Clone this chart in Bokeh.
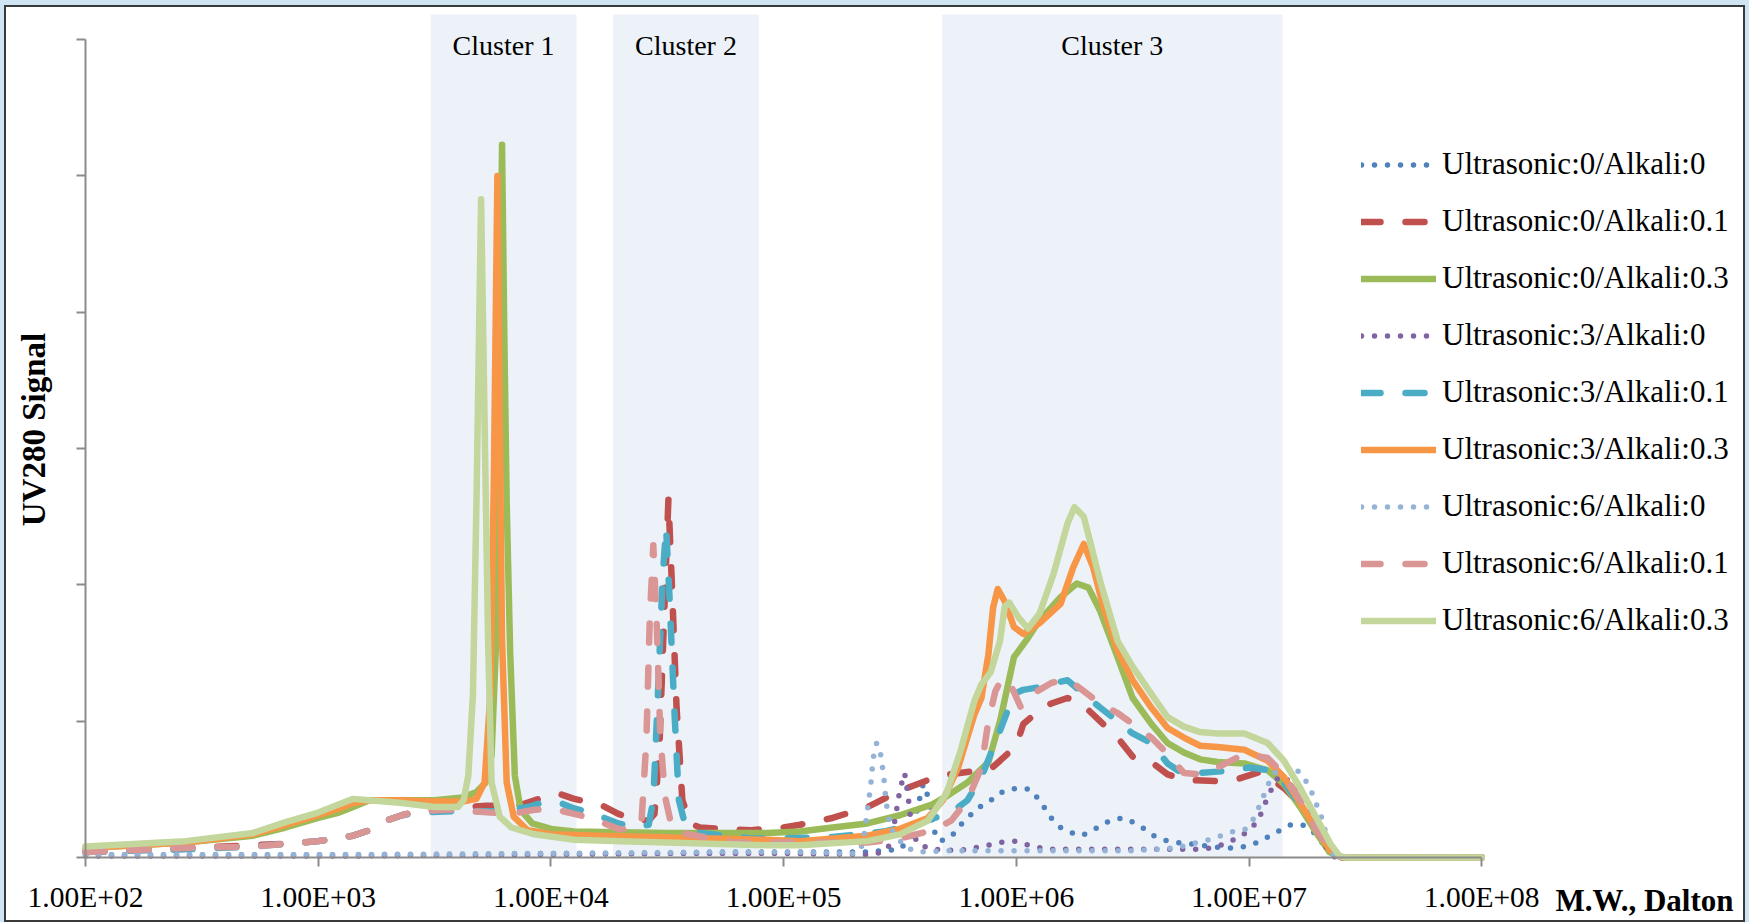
import numpy as np
from bokeh.plotting import figure
from bokeh.models import BoxAnnotation, Label, Legend, LegendItem, FixedTicker
from bokeh.embed import file_html
from bokeh.resources import INLINE

# ---------------- data ----------------
series_names = [
    "Ultrasonic:0/Alkali:0", "Ultrasonic:0/Alkali:0.1", "Ultrasonic:0/Alkali:0.3",
    "Ultrasonic:3/Alkali:0", "Ultrasonic:3/Alkali:0.1", "Ultrasonic:3/Alkali:0.3",
    "Ultrasonic:6/Alkali:0", "Ultrasonic:6/Alkali:0.1", "Ultrasonic:6/Alkali:0.3",
]
x_tick_values = [1e2, 1e3, 1e4, 1e5, 1e6, 1e7, 1e8]
x_tick_labels = ["1.00E+02", "1.00E+03", "1.00E+04", "1.00E+05", "1.00E+06", "1.00E+07", "1.00E+08"]
y_tick_values = [0, 1, 2, 3, 4, 5, 6]
x_title = "M.W., Dalton"
y_title = "UV280 Signal"

cluster_names = ["Cluster 1", "Cluster 2", "Cluster 3"]
cluster_log_lo = [3.483, 4.267, 5.681]
cluster_log_hi = [4.110, 4.894, 7.144]

# log10(M.W.) positions and UV280 signal
u0_a0_log = [2.00, 2.50, 3.00, 3.50, 4.00, 4.50, 4.70, 5.00, 5.36, 5.50, 5.55, 5.58, 5.60, 5.62, 5.645, 5.67, 5.72,
             5.75, 5.79, 5.84, 5.88, 5.91, 5.95, 6.005, 6.06, 6.10, 6.15, 6.19, 6.24, 6.28, 6.33, 6.375, 6.42, 6.46,
             6.50, 6.55, 6.59, 6.65, 6.69, 6.75, 6.83, 6.90, 6.955, 7.005, 7.05, 7.09, 7.135, 7.18, 7.23, 7.27, 7.31,
             7.34, 7.37, 8.00]
u0_a0_sig = [0.02, 0.02, 0.02, 0.02, 0.03, 0.03, 0.04, 0.04, 0.04, 0.06, 0.15, 0.40, 0.54, 0.45, 0.20, 0.12, 0.15,
             0.22, 0.29, 0.37, 0.40, 0.45, 0.49, 0.51, 0.50, 0.42, 0.29, 0.22, 0.18, 0.16, 0.20, 0.25, 0.28, 0.29,
             0.26, 0.21, 0.16, 0.12, 0.11, 0.10, 0.08, 0.07, 0.07, 0.09, 0.12, 0.16, 0.20, 0.24, 0.24, 0.20, 0.12,
             0.05, 0.00, 0.00]

u0_a01_log = [2.00, 2.43, 2.72, 2.86, 3.00, 3.15, 3.22, 3.29, 3.36, 3.43, 3.58, 3.72, 3.86, 3.93, 4.03, 4.10, 4.21,
              4.29, 4.355, 4.42, 4.445, 4.465, 4.485, 4.505, 4.52, 4.54, 4.565, 4.60, 4.64, 4.72, 4.86, 5.00, 5.07,
              5.21, 5.36, 5.50, 5.67, 5.89, 5.93, 6.00, 6.03, 6.10, 6.15, 6.22, 6.28, 6.36, 6.435, 6.50, 6.58, 6.65,
              6.72, 6.865, 6.96, 7.05, 7.15, 7.22, 7.29, 7.35, 7.40, 8.00]
u0_a01_sig = [0.04, 0.07, 0.09, 0.10, 0.12, 0.16, 0.20, 0.27, 0.31, 0.34, 0.36, 0.38, 0.38, 0.42, 0.47, 0.43, 0.39,
              0.32, 0.28, 0.27, 0.32, 0.75, 1.70, 2.63, 2.00, 1.10, 0.42, 0.25, 0.22, 0.21, 0.20, 0.22, 0.24,
              0.29, 0.37, 0.49, 0.60, 0.65, 0.71, 0.82, 0.98, 1.08, 1.13, 1.17, 1.13, 1.00, 0.88, 0.74, 0.70, 0.61,
              0.57, 0.56, 0.58, 0.63, 0.51, 0.39, 0.20, 0.05, 0.00, 0.00]

u0_a03_log = [2.00, 2.43, 2.72, 2.86, 3.00, 3.09, 3.15, 3.22, 3.36, 3.50, 3.62, 3.68, 3.72, 3.745, 3.765, 3.78, 3.79,
              3.80, 3.81, 3.825, 3.845, 3.87, 3.92, 4.00, 4.10, 4.50, 4.93, 5.07, 5.21, 5.36, 5.50, 5.64, 5.70, 5.79,
              5.88, 5.93, 5.99, 6.05, 6.10, 6.19, 6.26, 6.31, 6.36, 6.435, 6.50, 6.58, 6.65, 6.72, 6.79, 6.865, 6.98,
              7.08, 7.15, 7.22, 7.29, 7.345, 7.40, 8.00]
u0_a03_sig = [0.07, 0.11, 0.16, 0.22, 0.29, 0.33, 0.37, 0.42, 0.42, 0.42, 0.44, 0.48, 0.55, 0.75, 1.60, 3.50, 5.23,
              3.80, 2.60, 1.50, 0.60, 0.35, 0.25, 0.21, 0.19, 0.18, 0.18, 0.19, 0.22, 0.25, 0.31, 0.39, 0.45, 0.55,
              0.70, 1.00, 1.47, 1.61, 1.74, 1.91, 2.01, 1.98, 1.81, 1.47, 1.17, 0.98, 0.84, 0.77, 0.72, 0.70, 0.69,
              0.64, 0.54, 0.37, 0.18, 0.04, 0.00, 0.00]

u3_a0_log = [2.00, 3.00, 4.00, 4.50, 5.00, 5.36, 5.43, 5.46, 5.48, 5.50, 5.52, 5.535, 5.55, 5.575, 5.64, 5.75, 5.85,
             5.93, 6.00, 6.07, 6.15, 6.50, 6.80, 6.865, 6.92, 6.96, 7.00, 7.04, 7.06, 7.08, 7.105, 7.13, 7.16, 7.20,
             7.25, 7.30, 7.34, 7.37, 8.00]
u3_a0_sig = [0.01, 0.01, 0.02, 0.03, 0.03, 0.02, 0.04, 0.10, 0.29, 0.50, 0.62, 0.45, 0.22, 0.10, 0.06, 0.05, 0.08,
             0.11, 0.12, 0.08, 0.06, 0.06, 0.06, 0.08, 0.12, 0.15, 0.20, 0.27, 0.36, 0.44, 0.53, 0.60, 0.58, 0.50,
             0.35, 0.18, 0.05, 0.00, 0.00]

u3_a01_log = [2.00, 2.43, 2.72, 2.86, 3.00, 3.15, 3.22, 3.29, 3.36, 3.43, 3.58, 3.78, 3.90, 3.98, 4.04, 4.10, 4.17,
              4.29, 4.355, 4.42, 4.44, 4.46, 4.48, 4.495, 4.51, 4.53, 4.55, 4.58, 4.64, 4.86, 5.00, 5.21, 5.43, 5.575,
              5.72, 5.79, 5.85, 5.93, 5.99, 6.03, 6.10, 6.16, 6.22, 6.29, 6.36, 6.45, 6.50, 6.58, 6.65, 6.72, 6.865,
              7.005, 7.08, 7.15, 7.22, 7.29, 7.35, 7.40, 8.00]
u3_a01_sig = [0.04, 0.06, 0.08, 0.10, 0.12, 0.16, 0.20, 0.27, 0.31, 0.33, 0.34, 0.34, 0.37, 0.41, 0.40, 0.36, 0.33,
              0.25, 0.22, 0.24, 0.42, 1.20, 2.05, 2.42, 1.90, 1.10, 0.42, 0.22, 0.18, 0.14, 0.14, 0.15, 0.19, 0.25,
              0.33, 0.42, 0.59, 0.93, 1.20, 1.23, 1.25, 1.28, 1.30, 1.20, 1.10, 0.98, 0.91, 0.84, 0.69, 0.61, 0.63,
              0.66, 0.64, 0.55, 0.39, 0.20, 0.05, 0.00, 0.00]

u3_a03_log = [2.00, 2.43, 2.72, 2.86, 3.00, 3.09, 3.15, 3.22, 3.36, 3.50, 3.62, 3.68, 3.715, 3.74, 3.755, 3.77, 3.78,
              3.79, 3.81, 3.84, 3.90, 4.00, 4.20, 4.93, 5.07, 5.36, 5.50, 5.62, 5.685, 5.75, 5.82, 5.85, 5.88, 5.90,
              5.92, 5.95, 5.99, 6.03, 6.10, 6.19, 6.245, 6.29, 6.33, 6.375, 6.435, 6.50, 6.58, 6.65, 6.72, 6.79, 6.865,
              6.98, 7.08, 7.15, 7.22, 7.29, 7.35, 7.40, 8.00]
u3_a03_sig = [0.07, 0.11, 0.17, 0.24, 0.31, 0.36, 0.40, 0.42, 0.42, 0.41, 0.41, 0.43, 0.55, 1.20, 2.80, 5.00, 3.20,
              1.60, 0.55, 0.30, 0.20, 0.17, 0.16, 0.13, 0.12, 0.16, 0.21, 0.29, 0.42, 0.66, 1.05, 1.17, 1.49, 1.83,
              1.97, 1.88, 1.69, 1.64, 1.72, 1.86, 2.13, 2.30, 2.13, 1.83, 1.52, 1.30, 1.10, 0.95, 0.88, 0.82, 0.81,
              0.79, 0.71, 0.59, 0.40, 0.20, 0.05, 0.00, 0.00]

u6_a0_log = [2.00, 3.00, 4.00, 4.70, 5.00, 5.30, 5.33, 5.345, 5.36, 5.375, 5.385, 5.40, 5.415, 5.43, 5.44, 5.46, 5.52,
             5.575, 5.70, 6.00, 6.50, 6.69, 6.75, 6.83, 6.88, 6.93, 6.98, 7.015, 7.04, 7.06, 7.08, 7.11, 7.16, 7.19,
             7.23, 7.255, 7.28, 7.30, 7.32, 7.33, 7.35, 7.37, 8.00]
u6_a0_sig = [0.02, 0.02, 0.03, 0.04, 0.04, 0.03, 0.05, 0.15, 0.34, 0.54, 0.73, 0.84, 0.78, 0.60, 0.41, 0.21, 0.08,
             0.04, 0.05, 0.05, 0.05, 0.07, 0.10, 0.13, 0.16, 0.19, 0.20, 0.27, 0.36, 0.44, 0.53, 0.62, 0.66, 0.67,
             0.60, 0.53, 0.44, 0.34, 0.26, 0.17, 0.07, 0.00, 0.00]

u6_a01_log = [2.00, 2.43, 2.72, 2.86, 3.00, 3.15, 3.22, 3.29, 3.36, 3.43, 3.58, 3.65, 3.83, 3.93, 4.00, 4.10, 4.17,
              4.29, 4.355, 4.39, 4.41, 4.425, 4.44, 4.455, 4.47, 4.49, 4.52, 4.56, 4.785, 5.00, 5.36, 5.50, 5.64, 5.72,
              5.79, 5.85, 5.88, 5.91, 5.94, 5.98, 6.02, 6.07, 6.15, 6.22, 6.29, 6.36, 6.435, 6.50, 6.58, 6.65, 6.72,
              6.79, 6.865, 6.98, 7.08, 7.15, 7.22, 7.29, 7.35, 7.40, 8.00]
u6_a01_sig = [0.04, 0.07, 0.08, 0.10, 0.12, 0.16, 0.20, 0.27, 0.31, 0.34, 0.35, 0.34, 0.32, 0.35, 0.36, 0.32, 0.29,
              0.21, 0.20, 0.28, 0.85, 1.75, 2.29, 1.70, 0.90, 0.45, 0.22, 0.18, 0.11, 0.11, 0.11, 0.14, 0.20, 0.27,
              0.42, 0.66, 1.00, 1.22, 1.32, 1.25, 1.10, 1.20, 1.28, 1.31, 1.22, 1.13, 1.06, 0.98, 0.88, 0.76, 0.62,
              0.61, 0.66, 0.76, 0.73, 0.61, 0.42, 0.20, 0.05, 0.00, 0.00]

u6_a03_log = [2.00, 2.43, 2.72, 2.86, 3.00, 3.09, 3.15, 3.22, 3.36, 3.50, 3.60, 3.625, 3.645, 3.665, 3.68, 3.70, 3.715,
              3.73, 3.745, 3.78, 3.83, 3.93, 4.10, 4.30, 4.93, 5.07, 5.36, 5.50, 5.62, 5.70, 5.76, 5.82, 5.85, 5.89,
              5.93, 5.95, 5.97, 6.01, 6.05, 6.10, 6.16, 6.22, 6.25, 6.29, 6.36, 6.435, 6.50, 6.58, 6.65, 6.72, 6.79,
              6.865, 6.98, 7.08, 7.15, 7.22, 7.29, 7.35, 7.39, 7.42, 8.00]
u6_a03_sig = [0.08, 0.12, 0.18, 0.26, 0.33, 0.39, 0.43, 0.42, 0.40, 0.37, 0.37, 0.42, 0.60, 1.20, 2.60, 4.83, 3.20,
              1.60, 0.55, 0.30, 0.22, 0.17, 0.13, 0.12, 0.09, 0.09, 0.12, 0.17, 0.27, 0.47, 0.78, 1.15, 1.27, 1.36,
              1.59, 1.84, 1.87, 1.76, 1.68, 1.79, 2.08, 2.45, 2.57, 2.50, 2.03, 1.59, 1.40, 1.20, 1.03, 0.96, 0.92,
              0.91, 0.91, 0.84, 0.71, 0.51, 0.29, 0.10, 0.01, 0.00, 0.00]

series_log = [u0_a0_log, u0_a01_log, u0_a03_log, u3_a0_log, u3_a01_log, u3_a03_log, u6_a0_log, u6_a01_log, u6_a03_log]
series_sig = [u0_a0_sig, u0_a01_sig, u0_a03_sig, u3_a0_sig, u3_a01_sig, u3_a03_sig, u6_a0_sig, u6_a01_sig, u6_a03_sig]

# ---------------- styles ----------------
series_colors = ["#4F81BD", "#C0504D", "#9BBB59", "#8064A2", "#4BACC6", "#F79646", "#95B3D7", "#D99694", "#C3D69B"]
DOT, DASH, SOLID = "0 13", "19 25", "solid"
series_dash = [DOT, DASH, SOLID, DOT, DASH, SOLID, DOT, DASH, SOLID]
series_width = [5.5 if d == DOT else 6.5 for d in series_dash]

SERIF = "Liberation Serif"
AXIS_GRAY = "#8C8C8C"
EDGE_BLUE = "#CFE5F3"
EDGE_DARK = "#3A3A3A"

W, H = 1749, 922
# the plot frame covers the whole canvas; both axes are pinned to data positions
p = figure(width=W, height=H, x_axis_type="log",
           x_range=(10 ** 1.6347, 10 ** 9.1508), y_range=(-0.477, 6.2876),
           output_backend="svg", toolbar_location=None,
           min_border_left=0, min_border_right=0, min_border_top=0, min_border_bottom=0)
p.outline_line_color = None
p.grid.visible = False
p.background_fill_alpha = 0
p.border_fill_alpha = 0
p.styles = {
    "background-color": "white",
    "box-shadow": (f"inset 4px 5px 0 0 {EDGE_BLUE}, inset -4px 0 0 0 {EDGE_BLUE}, "
                   f"inset 6px 7px 0 0 {EDGE_DARK}, inset -6px -2px 0 0 {EDGE_DARK}"),
}

# cluster bands
BAND_TOP = 6.185
for name, lo, hi in zip(cluster_names, cluster_log_lo, cluster_log_hi):
    p.add_layout(BoxAnnotation(left=10 ** lo, right=10 ** hi, bottom=0, top=BAND_TOP,
                               fill_color="#EDF2F9", fill_alpha=1.0, line_color=None, level="underlay"))
    p.add_layout(Label(x=10 ** ((lo + hi) / 2), y=5.96, text=name, text_align="center",
                       text_baseline="middle", text_font=SERIF, text_font_size="28px", text_color="black"))

# curves
items = []
for name, lg, sg, col, dash, lw in zip(series_names, series_log, series_sig, series_colors, series_dash, series_width):
    r = p.line(10 ** np.array(lg), sg, line_color=col, line_width=lw, line_dash=dash,
               line_cap="round", line_join="round")
    items.append(LegendItem(label=name, renderers=[r]))

legend = Legend(items=items, location=(1361, 284), orientation="vertical",
                glyph_width=75, glyph_height=31, label_height=31, label_standoff=6, spacing=21,
                padding=0, margin=0, border_line_color=None, background_fill_alpha=0,
                label_text_font=SERIF, label_text_font_size="31px", label_text_color="black")
p.add_layout(legend)

# x axis, drawn at signal = 0
xa = p.xaxis[0]
xa.fixed_location = 0
xa.ticker = FixedTicker(ticks=x_tick_values, minor_ticks=[])
xa.major_label_overrides = dict(zip(x_tick_values, x_tick_labels))
xa.bounds = (x_tick_values[0], x_tick_values[-1])
xa.axis_line_color = AXIS_GRAY
xa.axis_line_width = 2
xa.major_tick_line_color = AXIS_GRAY
xa.major_tick_line_width = 2
xa.major_tick_out = 9
xa.major_tick_in = 0
xa.minor_tick_line_color = None
xa.major_label_standoff = 15
xa.major_label_text_font = SERIF
xa.major_label_text_font_size = "29.5px"
xa.major_label_text_color = "black"

# y axis (ticks only), drawn at M.W. = 1e2
ya = p.yaxis[0]
ya.fixed_location = x_tick_values[0]
ya.ticker = FixedTicker(ticks=y_tick_values, minor_ticks=[])
ya.bounds = (y_tick_values[0], y_tick_values[-1])
ya.axis_line_color = AXIS_GRAY
ya.axis_line_width = 2
ya.major_tick_line_color = AXIS_GRAY
ya.major_tick_line_width = 2
ya.major_tick_out = 9
ya.major_tick_in = 0
ya.minor_tick_line_color = None
ya.major_label_text_font_size = "0px"
ya.major_label_text_color = None
ya.major_label_standoff = 0

# axis titles
p.add_layout(Label(x=10 ** 1.7808, y=3.14, text=y_title, angle=np.pi / 2, text_align="center",
                   text_baseline="middle", text_font=SERIF, text_font_style="bold", text_font_size="33px",
                   text_color="black"))
p.add_layout(Label(x=10 ** 8.317, y=-0.315, text=x_title, text_align="left", text_baseline="middle",
                   text_font=SERIF, text_font_style="bold", text_font_size="31px", text_color="black"))

open("out.html", "w").write(file_html(p, INLINE))
